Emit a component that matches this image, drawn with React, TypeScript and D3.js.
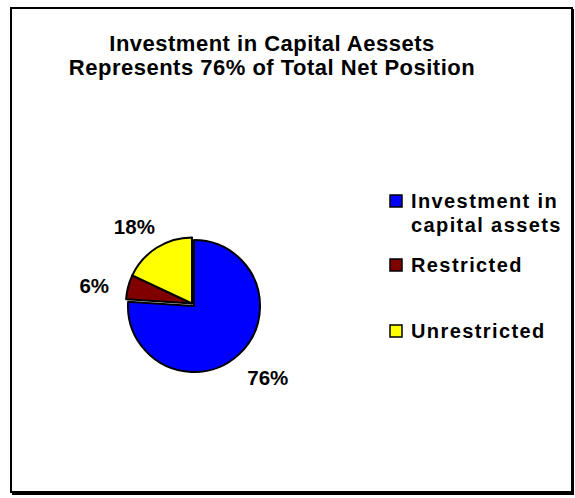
import React, { useRef, useEffect } from 'react';
import * as d3 from 'd3';

const categories = ['Investment in capital assets', 'Restricted', 'Unrestricted'];
const legendLines = [['Investment in', 'capital assets'], ['Restricted'], ['Unrestricted']];
const values = [76, 6, 18];
const labels = ['76%', '6%', '18%'];
const colors = ['#0000ff', '#800000', '#ffff00'];
const titleLines = ['Investment in Capital Aessets', 'Represents 76% of Total Net Position'];

const App: React.FC = () => {
    const width = 575;
    const height = 498;
    const svgRef = useRef<SVGSVGElement>(null);

    useEffect(() => {
        if (!svgRef.current) return;
        const svg = d3.select(svgRef.current);
        svg.selectAll('*').remove();

        const font = '"Liberation Sans", Arial, sans-serif';

        // frame with shadow
        svg.append('rect')
            .attr('x', 12).attr('y', 9)
            .attr('width', 562).attr('height', 486)
            .attr('fill', '#000');
        svg.append('rect')
            .attr('x', 11).attr('y', 8)
            .attr('width', 561).attr('height', 484)
            .attr('fill', '#fff')
            .attr('stroke', '#000')
            .attr('stroke-width', 2);

        // title
        svg.append('g')
            .selectAll('text')
            .data(titleLines)
            .enter()
            .append('text')
            .attr('x', 272)
            .attr('y', (d, i) => 51 + i * 24)
            .attr('text-anchor', 'middle')
            .attr('font-family', font)
            .attr('font-weight', 'bold')
            .attr('font-size', 22)
            .attr('letter-spacing', 0.5)
            .text(d => d);

        // pie
        const cx = 194, cy = 306, r = 66;
        const pie = d3.pie<number>().sort(null).value(d => d);
        const arcs = pie(values);
        const arc = d3.arc<d3.PieArcDatum<number>>().innerRadius(0).outerRadius(r);
        const pieG = svg.append('g').attr('transform', `translate(${cx},${cy})`);
        pieG.selectAll('path')
            .data(arcs)
            .enter()
            .append('path')
            .attr('d', arc)
            .attr('transform', (d, i) => i === 0 ? null : 'translate(-2,-2.5)')
            .attr('fill', (d, i) => colors[i])
            .attr('stroke', '#000')
            .attr('stroke-width', 2)
            .attr('stroke-linejoin', 'round');

        // percent labels
        const labelArc = d3.arc<d3.PieArcDatum<number>>().innerRadius(102).outerRadius(102);
        const nudge = [[4, -3], [-1, 5], [-5, 7]];
        svg.append('g')
            .attr('transform', `translate(${cx},${cy})`)
            .selectAll('text')
            .data(arcs)
            .enter()
            .append('text')
            .attr('x', (d, i) => labelArc.centroid(d)[0] + nudge[i][0])
            .attr('y', (d, i) => labelArc.centroid(d)[1] + nudge[i][1])
            .attr('text-anchor', 'middle')
            .attr('dominant-baseline', 'central')
            .attr('font-family', font)
            .attr('font-weight', 'bold')
            .attr('font-size', 20.5)
            .text((d, i) => labels[i]);

        // legend
        const legendY = [195, 259, 325];
        const legend = svg.append('g');
        const items = legend.selectAll('g')
            .data(categories)
            .enter()
            .append('g')
            .attr('transform', (d, i) => `translate(390,${legendY[i]})`);
        items.append('rect')
            .attr('width', 12).attr('height', 12)
            .attr('fill', (d, i) => colors[i])
            .attr('stroke', '#000')
            .attr('stroke-width', 1.5);
        items.append('text')
            .attr('font-family', font)
            .attr('font-weight', 'bold')
            .attr('font-size', 20)
            .attr('letter-spacing', 1.4)
            .selectAll('tspan')
            .data((d, i) => legendLines[i])
            .enter()
            .append('tspan')
            .attr('x', 21)
            .attr('y', (d, j) => 13 + j * 24)
            .text(d => d);
    }, []);

    return (
        <svg ref={svgRef} width={width} height={height}
            style={{ position: 'absolute', left: 0, top: 0, background: '#fff' }} />
    );
};

export default App;
